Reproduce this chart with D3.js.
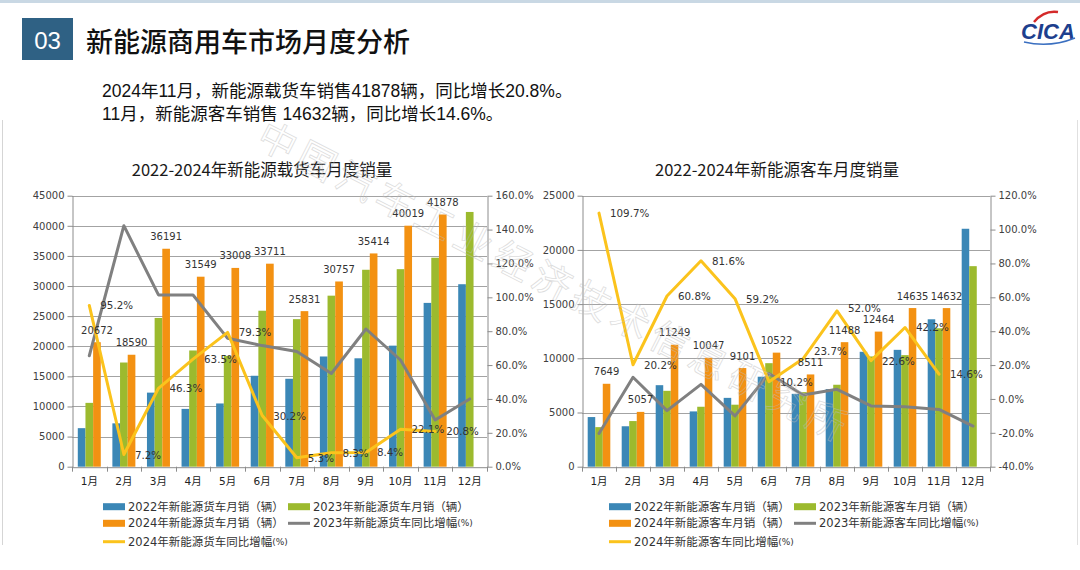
<!DOCTYPE html>
<html><head><meta charset="utf-8">
<script src="https://cdn.jsdelivr.net/npm/d3@7"></script>
<style>
body{margin:0;background:#fff;}
svg{display:block;}
</style></head>
<body>
<svg id="c" width="1080" height="570"></svg>
<script>
// ---------- data ----------
const months = ["1月","2月","3月","4月","5月","6月","7月","8月","9月","10月","11月","12月"];

const truck2022 = [6400, 7200, 12300, 9600, 10500, 15100, 14600, 18300, 18000, 20100, 27200, 30300];
const truck2023 = [10600, 17300, 24700, 19300, 18400, 25900, 24500, 28400, 32700, 32800, 34700, 42300];
const truck2024 = [20672, 18590, 36191, 31549, 33008, 33711, 25831, 30757, 35414, 40019, 41878, null];
const truckGrowth2023 = [65.5, 142.3, 101.4, 101.4, 75.8, 71.5, 68.0, 55.0, 81.3, 63.0, 27.6, 40.0];
const truckGrowth2024 = [95.2, 7.2, 46.3, 63.5, 79.3, 30.2, 5.3, 8.3, 8.4, 22.1, 20.8, null];

const bus2022 = [4580, 3730, 7520, 5100, 6350, 8300, 6720, 7160, 10600, 10780, 13600, 21950];
const bus2023 = [3650, 4210, 7000, 5530, 5720, 9550, 6880, 7560, 10170, 10290, 12770, 18500];
const bus2024 = [7649, 5057, 11249, 10047, 9101, 10522, 8511, 11488, 12464, 14635, 14632, null];
const busGrowth2023 = [-20.4, 12.8, -6.9, 8.6, -10.0, 15.0, 2.3, 5.7, -4.1, -4.6, -6.2, -16.0];
const busGrowth2024 = [109.7, 20.2, 60.8, 81.6, 59.2, 10.2, 23.7, 52.0, 22.6, 42.2, 14.6, null];

const truckTicks = [0,5000,10000,15000,20000,25000,30000,35000,40000,45000];
const truckPctTicks = [0,20,40,60,80,100,120,140,160];
const busTicks = [0,5000,10000,15000,20000,25000];
const busPctTicks = [-40,-20,0,20,40,60,80,100,120];

const truckTitle = "2022-2024年新能源载货车月度销量";
const busTitle = "2022-2024年新能源客车月度销量";
const truckLegend = ["2022年新能源货车月销（辆）","2023年新能源货车月销（辆）","2024年新能源货车月销（辆）","2023年新能源货车同比增幅","2024年新能源货车同比增幅"];
const busLegend = ["2022年新能源客车月销（辆）","2023年新能源客车月销（辆）","2024年新能源客车月销（辆）","2023年新能源客车同比增幅","2024年新能源客车同比增幅"];

const pageTitle = "新能源商用车市场月度分析";
const sectionNo = "03";
const summary1 = "2024年11月，新能源载货车销售41878辆，同比增长20.8%。";
const summary2 = "11月，新能源客车销售 14632辆，同比增长14.6%。";
const watermark = "中国汽车工业经济技术信息研究所";

// ---------- styles ----------
const C_BLUE = "#3b87b6", C_GREEN = "#9cba2e", C_ORANGE = "#f39112", C_GRAY = "#808080", C_YELLOW = "#fbc31c";
const SANS = "'DejaVu Sans','Noto Sans CJK SC',sans-serif";
const CJK = "'Noto Sans CJK SC','DejaVu Sans',sans-serif";
const ARIALCJK = "'Liberation Sans','Noto Sans CJK SC',sans-serif";

const svg = d3.select("#c");

// page decoration
svg.append("rect").attr("x",0).attr("y",0).attr("width",1080).attr("height",3).attr("fill","#c9d8e4");
svg.append("line").attr("x1",2.5).attr("x2",2.5).attr("y1",120).attr("y2",545).attr("stroke","#d5d5d5");
svg.append("line").attr("x1",1077.5).attr("x2",1077.5).attr("y1",120).attr("y2",545).attr("stroke","#e0e0e0");

// header
svg.append("rect").attr("x",22).attr("y",18).attr("width",51).attr("height",42).attr("fill","#2f6184");
svg.append("text").attr("x",47.5).attr("y",40).attr("text-anchor","middle").attr("dominant-baseline","central")
  .attr("font-family","'Liberation Sans',sans-serif").attr("font-size",24).attr("fill","#fff").text(sectionNo);
svg.append("text").attr("x",86).attr("y",40).attr("dominant-baseline","central")
  .attr("font-family",CJK).attr("font-weight",500).attr("font-size",27).attr("fill","#111").text(pageTitle);
svg.append("text").attr("x",102).attr("y",91).attr("dominant-baseline","central")
  .attr("font-family",ARIALCJK).attr("font-size",17.5).attr("fill","#111").text(summary1);
svg.append("text").attr("x",102).attr("y",114).attr("dominant-baseline","central")
  .attr("font-family",ARIALCJK).attr("font-size",17.5).attr("fill","#111").text(summary2);

// logo
const logo = svg.append("g");
logo.append("path").attr("d","M1034,22 Q1044,10 1058,12").attr("fill","none").attr("stroke","#d42a2a").attr("stroke-width",2.5);
logo.append("text").attr("x",1048).attr("y",31).attr("text-anchor","middle").attr("dominant-baseline","central")
  .attr("font-family","'Liberation Sans',sans-serif").attr("font-weight","bold").attr("font-style","italic")
  .attr("font-size",22).attr("fill","#1d3f8e").text("CICA");
logo.append("path").attr("d","M1024,42 Q1050,48 1075,38").attr("fill","none").attr("stroke","#3a6fc0").attr("stroke-width",1.5);

function overlaps(a, b) {
  return a.x < b.x + b.width && b.x < a.x + a.width && a.y < b.y + b.height && b.y < a.y + a.height;
}

function drawChart(o) {
  const g = svg.append("g");
  const yTop = 195.7, yBot = 466.7;
  const x = d3.scaleBand().domain(months).range([o.x0, o.x1]);
  const y = d3.scaleLinear().domain(d3.extent(o.ticks)).range([yBot, yTop]);
  const y2 = d3.scaleLinear().domain(d3.extent(o.pctTicks)).range([yBot, yTop]);
  const bw = x.bandwidth();
  const groupW = bw * 0.665;
  const sub = d3.scaleBand().domain([0,1,2]).range([0, groupW]);
  const cx = m => x(m) + bw/2;

  // title
  g.append("text").attr("x",o.titleX).attr("y",169).attr("text-anchor","middle").attr("dominant-baseline","central")
    .attr("font-family",CJK).attr("font-size",16.5).attr("fill","#1a1a1a").text(o.title);

  // gridlines
  g.selectAll("line.grid").data(o.ticks.filter(t => t !== 0)).join("line").attr("class","grid")
    .attr("x1",o.x0).attr("x2",o.x1).attr("y1",d=>Math.round(y(d))+0.5).attr("y2",d=>Math.round(y(d))+0.5)
    .attr("stroke","#a3a3a3").attr("stroke-width",1);

  // bars
  const series = [o.s1, o.s2, o.s3];
  const colors = [C_BLUE, C_GREEN, C_ORANGE];
  series.forEach((s, i) => {
    g.append("g").selectAll("rect").data(months.map((m,j)=>({m, v:s[j]})).filter(d=>d.v!=null)).join("rect")
      .attr("x", d => x(d.m) + (bw-groupW)/2 + sub(i))
      .attr("width", sub.bandwidth())
      .attr("y", d => y(d.v))
      .attr("height", d => y(0) - y(d.v))
      .attr("fill", colors[i]);
  });

  // axes
  const axStyle = sel => {
    sel.selectAll("path,line").attr("stroke","#8c8c8c");
    sel.selectAll("text").attr("font-family",SANS).attr("font-size",10).attr("fill","#404040");
  };
  g.append("g").attr("transform",`translate(${o.x0+0.5},0)`)
    .call(d3.axisLeft(y).tickValues(o.ticks).tickSize(5).tickSizeOuter(0).tickPadding(3).tickFormat(d3.format("d")))
    .call(axStyle);
  g.append("g").attr("transform",`translate(${o.x1+0.5},0)`)
    .call(d3.axisRight(y2).tickValues(o.pctTicks).tickSize(5).tickSizeOuter(0).tickPadding(3).tickFormat(d=>d.toFixed(1)+"%"))
    .call(axStyle);
  const xa = g.append("g").attr("transform",`translate(0,${yBot+0.5})`)
    .call(d3.axisBottom(x).tickSize(0).tickSizeOuter(0).tickPadding(10))
    .call(axStyle);
  xa.selectAll("text").attr("font-size",10.5).attr("fill","#222");
  g.append("g").selectAll("line").data(months.map(m=>x(m)).concat([o.x1])).join("line")
    .attr("x1",d=>Math.round(d)+0.5).attr("x2",d=>Math.round(d)+0.5)
    .attr("y1",yBot).attr("y2",yBot+5).attr("stroke","#8c8c8c");

  // lines
  const line = d3.line().defined(d=>d.v!=null).x(d=>cx(d.m)).y(d=>y2(d.v));
  [[o.g1, C_GRAY],[o.g2, C_YELLOW]].forEach(([s,col]) => {
    g.append("path").datum(months.map((m,j)=>({m, v:s[j]})))
      .attr("d", line).attr("fill","none").attr("stroke",col).attr("stroke-width",3)
      .attr("stroke-linejoin","round").attr("stroke-linecap","round");
  });

  // data labels for 2024 bars
  const barLabels = g.append("g").selectAll("text").data(months.map((m,j)=>({m, v:o.s3[j]})).filter(d=>d.v!=null)).join("text")
    .attr("x", d => x(d.m) + (bw-groupW)/2 + sub(2) + sub.bandwidth()/2)
    .attr("y", d => y(d.v) - 12)
    .attr("text-anchor","middle").attr("dominant-baseline","central")
    .attr("font-family",SANS).attr("font-size",10).attr("fill","#333")
    .text(d => d.v);
  // data labels for 2024 growth
  const pctLabels = g.append("g").selectAll("text").data(months.map((m,j)=>({m, v:o.g2[j]})).filter(d=>d.v!=null)).join("text")
    .attr("x", d => cx(d.m) + 11)
    .attr("y", d => y2(d.v))
    .attr("dominant-baseline","central")
    .attr("font-family",SANS).attr("font-size",10.3).attr("fill","#333")
    .text(d => d.v.toFixed(1) + "%");

  // nudge growth labels that collide with bar labels
  const boxes = barLabels.nodes().map(n => n.getBBox());
  pctLabels.each(function() {
    const el = d3.select(this);
    let tries = 0;
    while (tries < 20) {
      const b = this.getBBox();
      const hit = boxes.find(bb => overlaps(b, bb));
      if (!hit) break;
      el.attr("y", +el.attr("y") - 1);
      tries++;
    }
  });

  // legend
  const L = o.legend;
  const items = [
    {t:L[0], c:C_BLUE, k:"bar", x:o.lx1, y:506.7},
    {t:L[1], c:C_GREEN, k:"bar", x:o.lx2, y:506.7},
    {t:L[2], c:C_ORANGE, k:"bar", x:o.lx1, y:523.3},
    {t:L[3], c:C_GRAY, k:"line", x:o.lx2, y:523.3, pct:true},
    {t:L[4], c:C_YELLOW, k:"line", x:o.lx1, y:541.7, pct:true}
  ];
  items.forEach(it => {
    if (it.k === "bar") {
      g.append("rect").attr("x",it.x).attr("y",it.y-3.5).attr("width",22).attr("height",7).attr("fill",it.c);
    } else {
      g.append("line").attr("x1",it.x).attr("x2",it.x+22).attr("y1",it.y).attr("y2",it.y)
        .attr("stroke",it.c).attr("stroke-width",3);
    }
    const t = g.append("text").attr("x",it.x+25).attr("y",it.y).attr("dominant-baseline","central")
      .attr("font-family",SANS).attr("font-size",11.5).attr("fill","#333");
    t.append("tspan").text(it.t);
    if (it.pct) t.append("tspan").attr("font-size",9).text("(%)");
  });
}

drawChart({x0:72, x1:487, titleX:262, title:truckTitle, ticks:truckTicks, pctTicks:truckPctTicks,
  s1:truck2022, s2:truck2023, s3:truck2024, g1:truckGrowth2023, g2:truckGrowth2024,
  legend:truckLegend, lx1:103, lx2:288});
drawChart({x0:582, x1:990, titleX:777, title:busTitle, ticks:busTicks, pctTicks:busPctTicks,
  s1:bus2022, s2:bus2023, s3:bus2024, g1:busGrowth2023, g2:busGrowth2024,
  legend:busLegend, lx1:609, lx2:794});

// watermark
svg.append("text").attr("transform","translate(262,130) rotate(27)")
  .attr("font-family",CJK).attr("font-size",38).attr("letter-spacing",6)
  .attr("fill","none").attr("stroke","#bdbdbd").attr("stroke-width",0.8).attr("opacity",0.5)
  .attr("dominant-baseline","central").text(watermark);
</script>
</body></html>
